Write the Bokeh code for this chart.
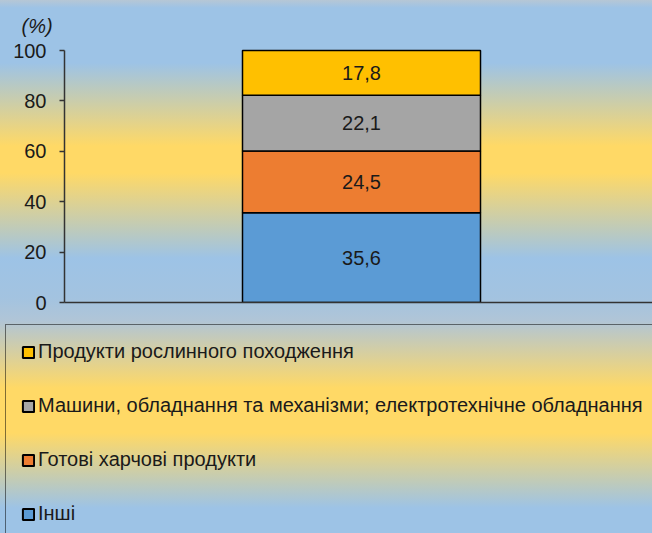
import numpy as np
from bokeh.plotting import figure
from bokeh.models import ColumnDataSource, Range1d, FixedTicker, Legend, LegendItem
from bokeh.core.properties import value
from bokeh.embed import file_html
from bokeh.resources import INLINE

# ---- data ----
categories = [
    "Інші",
    "Готові харчові продукти",
    "Машини, обладнання та механізми; електротехнічне обладнання",
    "Продукти рослинного походження",
]
shares = [35.6, 24.5, 22.1, 17.8]
colors = ["#5B9BD5", "#ED7D31", "#A5A5A5", "#FFC000"]
y_ticks = [0, 20, 40, 60, 80, 100]
unit_label = "(%)"

# ---- layout constants (pixels) ----
W = 652
H_TOP, H_LEG = 320, 213
LEFT = 64
TOP = 36
BOTTOM = 18
frame_w = W - LEFT
px_per_unit_y = 2.52
y100_px = 50
bar_center_px = 297
bar_width_px = 238

x_start = -bar_center_px / bar_width_px
x_end = (frame_w - bar_center_px) / bar_width_px
y_end = 100 + (y100_px - TOP) / px_per_unit_y

INK = "#1a1a1a"
AXIS = "#333333"
FONT = "Liberation Sans"

p = figure(width=W, height=H_TOP, output_backend="svg", toolbar_location=None,
           x_range=Range1d(x_start, x_end), y_range=Range1d(0, y_end),
           min_border_left=LEFT, min_border_right=0, min_border_top=TOP,
           min_border_bottom=BOTTOM, title=unit_label)
p.grid.visible = False
p.outline_line_color = None
p.background_fill_alpha = 0
p.border_fill_alpha = 0
p.styles = {"background": (
    "linear-gradient(to bottom, #B6C7D5 0px, #9DC3E6 8px, #9DC3E6 63px, #FFD966 146px, "
    "#FFD966 173px, #9DC3E6 258px, #A3C3E0 298px, #B0C5D7 320px)")}

p.title.align = "left"
p.title.offset = 21 - LEFT
p.title.standoff = 0
p.title.text_font = FONT
p.title.text_font_size = "20px"
p.title.text_font_style = "italic"
p.title.text_color = INK

src = {"x": [0]}
for c, v in zip(categories, shares):
    src[c] = [v]
source = ColumnDataSource(src)

p.vbar_stack(categories, x="x", width=1, color=colors, line_color="#000000",
             line_width=1.5, source=source)

vals = np.array(shares)
mids = np.cumsum(vals) - vals / 2
lab_src = ColumnDataSource({"x": [0] * len(vals), "y": mids,
                            "t": [f"{v:.1f}".replace(".", ",") for v in vals]})
p.text(x="x", y="y", text="t", source=lab_src, text_align="center", text_baseline="middle",
       text_font=value(FONT), text_font_size="20px", text_color=INK)

ax = p.yaxis[0]
ax.ticker = FixedTicker(ticks=y_ticks)
ax.bounds = (y_ticks[0], y_ticks[-1])
ax.axis_line_color = AXIS
ax.axis_line_width = 1.5
ax.major_tick_line_color = AXIS
ax.major_tick_line_width = 1.5
ax.major_tick_out = 5
ax.major_tick_in = 0
ax.minor_tick_out = 0
ax.minor_tick_in = 0
ax.major_label_standoff = 13
ax.major_label_text_font = FONT
ax.major_label_text_font_size = "20px"
ax.major_label_text_color = INK

xa = p.xaxis[0]
xa.ticker = FixedTicker(ticks=[])
xa.axis_line_color = AXIS
xa.axis_line_width = 1.5
xa.major_tick_out = 0
xa.major_tick_in = 0
xa.minor_tick_out = 0
xa.minor_tick_in = 0

# ---- legend panel ----
p2 = figure(width=W, height=H_LEG, output_backend="svg", toolbar_location=None,
            x_range=Range1d(0, 1), y_range=Range1d(0, 1),
            x_axis_location=None, y_axis_location=None,
            min_border_left=0, min_border_right=0, min_border_top=0, min_border_bottom=0)
p2.grid.visible = False
p2.outline_line_color = None
p2.background_fill_alpha = 0
p2.border_fill_alpha = 0
p2.styles = {"background": (
    "linear-gradient(to bottom, #B0C5D7 0px, #FFD966 68px, #FFD966 113px, "
    "#9DC3E6 188px, #9DC3E6 213px)")}

leg_renderers = p2.vbar_stack(categories, x="x", width=1, color=colors, line_color="#000000",
                              line_width=2, source=source, visible=False)

items = [LegendItem(label=c, renderers=[r]) for c, r in zip(categories, leg_renderers)][::-1]
legend = Legend(items=items, location=(5, -8), orientation="vertical",
                border_line_color="#000000", border_line_width=1.5, background_fill_alpha=0,
                label_text_font=FONT, label_text_font_size="20px",
                label_text_color=INK, glyph_width=14, glyph_height=14,
                label_standoff=3, padding=15, spacing=31, label_height=23, margin=0,
                click_policy="none")
p2.add_layout(legend)

open("out.html", "w").write(file_html([p, p2], INLINE))
